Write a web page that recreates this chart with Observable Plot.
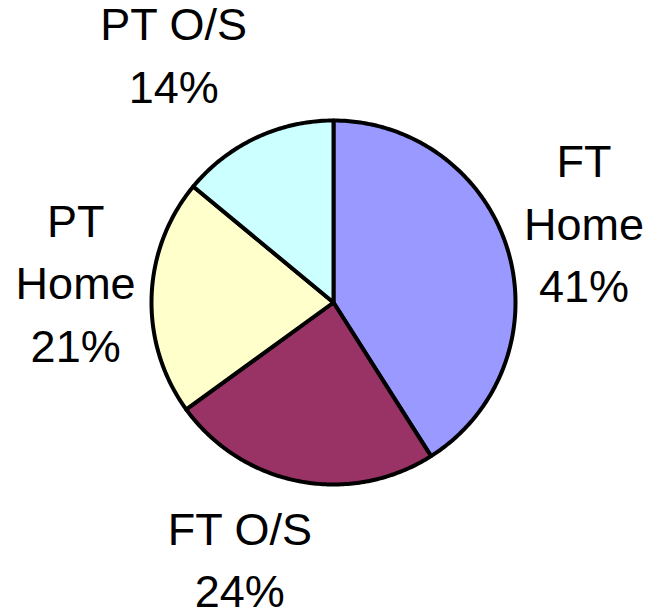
<!DOCTYPE html>
<html>
<head>
<meta charset="utf-8">
<script src="https://cdn.jsdelivr.net/npm/d3@7"></script>
<script src="https://cdn.jsdelivr.net/npm/@observablehq/plot@0.6"></script>
<style>
  html, body { margin: 0; padding: 0; background: #ffffff; }
  #chart svg { display: block; }
</style>
</head>
<body>
<div id="chart"></div>
<script>
// ---- data ----
const categories = ["FT Home", "FT O/S", "PT Home", "PT O/S"];
const labelNames = ["FT\nHome", "FT O/S", "PT\nHome", "PT O/S"];
const values = [41, 24, 21, 14];
const sliceColors = ["#9999FF", "#993366", "#FFFFCC", "#CCFFFF"];

// ---- layout (pixel units of the plot frame) ----
const W = 650, H = 610;
const cx = 333, cy = 302, r = 182;
const labelR = 265;
const labelNudgeX = [-4, -44, 7, -47];
const labelNudgeY = [-9, -7, -15, -11];

const rows = categories.map((c, i) => ({name: c, value: values[i], label: labelNames[i]}));
const arcs = d3.pie().sort(null).value(d => d.value)(rows);

const slicePoints = [];
arcs.forEach(a => {
  const n = Math.max(8, Math.ceil((a.endAngle - a.startAngle) * 80));
  slicePoints.push({name: a.data.name, x: cx, y: cy});
  for (let k = 0; k <= n; k++) {
    const t = a.startAngle + (a.endAngle - a.startAngle) * k / n;
    slicePoints.push({name: a.data.name, x: cx + r * Math.sin(t), y: cy - r * Math.cos(t)});
  }
  slicePoints.push({name: a.data.name, x: cx, y: cy});
});

const labels = arcs.map((a, i) => {
  const m = (a.startAngle + a.endAngle) / 2;
  return {
    text: a.data.label + "\n" + a.data.value + "%",
    x: cx + labelR * Math.sin(m) + labelNudgeX[i],
    y: cy - labelR * Math.cos(m) + labelNudgeY[i]
  };
});

const chart = Plot.plot({
  width: W,
  height: H,
  margin: 0,
  x: {domain: [0, W], range: [0, W], axis: null},
  y: {domain: [0, H], range: [0, H], axis: null},
  color: {domain: categories, range: sliceColors},
  style: {background: "#ffffff", fontFamily: "'Liberation Sans', Arial, sans-serif"},
  marks: [
    Plot.line(slicePoints, {
      x: "x", y: "y", z: "name", fill: "name",
      stroke: "#000000", strokeWidth: 4, strokeLinejoin: "round", curve: "linear"
    }),
    Plot.text(labels, {
      x: "x", y: "y", text: "text",
      fontSize: 45, lineHeight: 1.39, fill: "#000000",
      textAnchor: "middle"
    })
  ]
});

document.getElementById("chart").appendChild(chart);
</script>
</body>
</html>
